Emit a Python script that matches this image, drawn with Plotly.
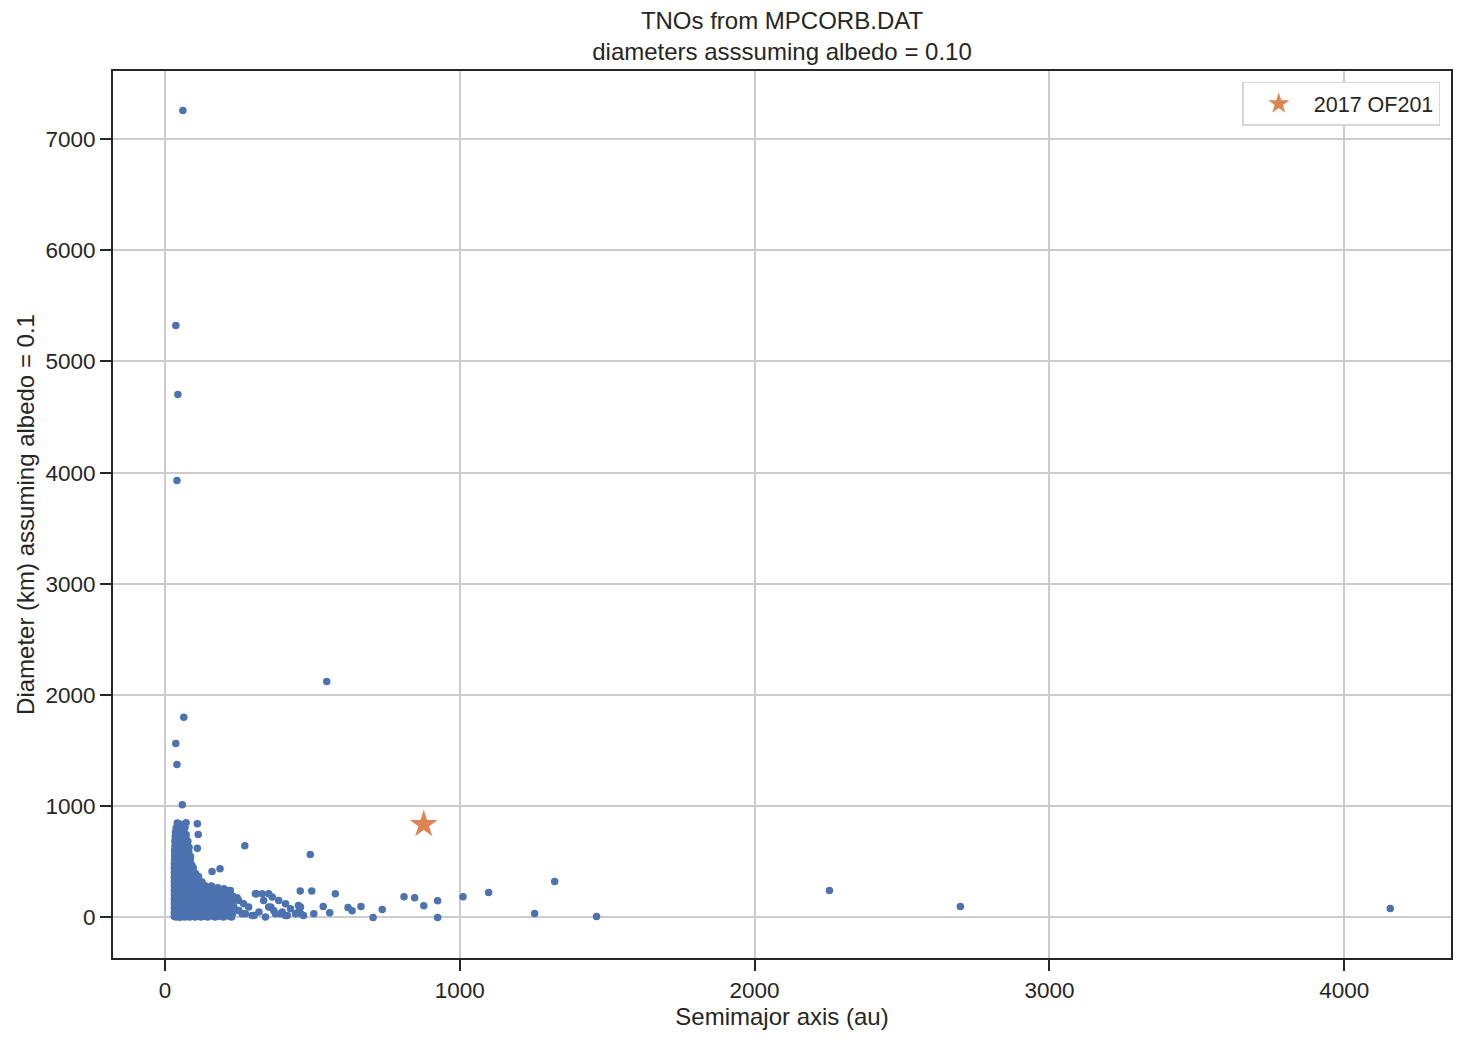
import plotly.graph_objects as go

# dense cluster of TNOs near a = 30-250 au as (a [au], D [km])
cluster = [
    (42, 848), (50, 840), (58, 836), (72, 851), (47, 826), (55, 820),
    (38, 805), (45, 795), (53, 800), (61, 790), (68, 808),
    (36, 765), (43, 758), (50, 770), (58, 752), (65, 762), (72, 745),
    (35, 725), (42, 715), (49, 728), (57, 718), (64, 710), (71, 722),
    (34, 684), (41, 676), (48, 690), (56, 672), (63, 680), (70, 668), (78, 686),
    (34, 642), (40, 634), (47, 648), (54, 630), (61, 640), (68, 628), (75, 645), (82, 632),
    (33, 602), (40, 596), (46, 610), (53, 590), (60, 604), (67, 594), (74, 606), (81, 588),
    (33, 562), (39, 552), (46, 568), (52, 556), (59, 548), (66, 565), (73, 550), (80, 560), (87, 548),
    (33, 522), (39, 514), (45, 528), (52, 510), (58, 520), (65, 512), (72, 525), (79, 508), (86, 518),
    (32, 484), (38, 476), (45, 490), (51, 470), (58, 482), (64, 474), (71, 486), (78, 470), (85, 480),
    (91, 472),
    (32, 444), (38, 436), (44, 450), (51, 430), (57, 442), (64, 434), (70, 446), (77, 430), (84, 440),
    (90, 432), (96, 446),
    (32, 404), (38, 396), (44, 410), (50, 392), (57, 402), (63, 394), (70, 406), (77, 390), (84, 400),
    (91, 392), (98, 404), (104, 395),
    (32, 364), (38, 356), (44, 370), (50, 352), (56, 362), (63, 354), (70, 366), (77, 350), (84, 360),
    (91, 352), (99, 364), (107, 355), (114, 368),
    (32, 324), (37, 316), (43, 330), (50, 312), (56, 322), (63, 314), (70, 326), (77, 310), (84, 320),
    (92, 312), (100, 324), (108, 316), (117, 328), (126, 318),
    (32, 284), (37, 276), (43, 290), (49, 272), (56, 282), (63, 274), (70, 286), (77, 270), (84, 280),
    (92, 272), (100, 284), (108, 276), (117, 288), (127, 275), (137, 284), (148, 272), (158, 282),
    (32, 244), (37, 236), (43, 250), (49, 232), (56, 242), (63, 234), (70, 246), (77, 230), (84, 240),
    (92, 232), (100, 244), (109, 236), (118, 248), (128, 232), (139, 244), (150, 236), (162, 246),
    (175, 232), (188, 242), (200, 258), (212, 238), (222, 243), (179, 266), (208, 243),
    (32, 204), (37, 196), (43, 210), (49, 192), (56, 202), (63, 194), (70, 206), (77, 190), (85, 200),
    (93, 192), (101, 204), (110, 196), (119, 208), (129, 192), (140, 204), (151, 196), (163, 206),
    (176, 192), (189, 202), (202, 194), (216, 204), (230, 192),
    (32, 164), (37, 156), (43, 170), (49, 152), (56, 162), (63, 154), (70, 166), (77, 150), (85, 160),
    (93, 152), (101, 164), (110, 156), (119, 168), (129, 152), (140, 164), (151, 156), (163, 166),
    (176, 152), (189, 162), (202, 154), (216, 164), (230, 152), (245, 177),
    (32, 124), (37, 116), (43, 130), (49, 112), (56, 122), (63, 114), (70, 126), (77, 110), (85, 120),
    (93, 112), (101, 124), (110, 116), (119, 128), (129, 112), (140, 124), (151, 116), (163, 126),
    (176, 112), (189, 122), (202, 114), (216, 124), (230, 112),
    (32, 84), (37, 76), (43, 90), (49, 72), (56, 82), (63, 74), (70, 86), (77, 70), (85, 80),
    (93, 72), (101, 84), (110, 76), (119, 88), (129, 72), (140, 84), (151, 76), (163, 86),
    (176, 72), (189, 82), (202, 74), (216, 84), (234, 93),
    (32, 44), (37, 36), (43, 50), (49, 32), (56, 42), (63, 34), (70, 46), (77, 30), (85, 40),
    (93, 32), (101, 44), (110, 36), (119, 48), (129, 32), (140, 44), (151, 36), (163, 46),
    (176, 32), (189, 42), (202, 34), (216, 44), (230, 36),
    (32, 8), (38, 4), (45, 12), (52, 2), (60, 10), (68, 4), (76, 12), (84, 3), (93, 10),
    (102, 4), (112, 12), (122, 3), (133, 10), (145, 4), (157, 12), (170, 3), (184, 10),
    (198, 4), (212, 12), (226, 3),
]

# sparser objects further out, (a [au], D [km])
scattered = [
    (250, 153), (267, 123), (284, 93), (307, 213), (352, 213), (364, 183), (386, 153),
    (409, 123), (426, 78), (453, 48), (459, 237), (498, 237), (505, 32), (453, 108),
    (352, 93), (369, 63), (392, 32), (319, 48), (296, 18), (273, 32), (251, 63),
    (341, 3), (409, 18), (443, 32), (470, 18), (335, 153), (330, 213), (310, 212),
    (359, 93), (375, 32), (398, 48), (415, 18), (262, 32), (302, 18),
    (460, 93), (460, 36), (537, 99), (559, 42), (578, 212), (621, 89), (635, 59),
    (665, 99), (706, 0), (737, 72), (811, 186), (847, 176), (878, 104), (925, 150),
    (925, 0), (1011, 186), (1098, 225), (1254, 36), (1322, 324), (1464, 9),
    (2254, 243), (2698, 99), (4156, 81),
]

# large or unusual objects, (a [au], D [km])
outliers = [
    (61, 7257), (37, 5324), (44, 4703), (41, 3930), (549, 2122), (64, 1799),
    (37, 1565), (41, 1376), (59, 1013), (110, 842), (113, 746), (110, 623),
    (271, 645), (493, 566), (160, 414), (187, 437),
]

star_a = [878]
star_d = [836]
star_name = "2017 OF201"

points = cluster + scattered + outliers
tno_a = [p[0] for p in points]
tno_d = [p[1] for p in points]

x_ticks = [0, 1000, 2000, 3000, 4000]
y_ticks = [0, 1000, 2000, 3000, 4000, 5000, 6000, 7000]

INK = "#262626"
FONT = "Liberation Sans, Arial, sans-serif"

fig = go.Figure()
fig.add_trace(go.Scatter(
    x=tno_a, y=tno_d, mode="markers", showlegend=False,
    marker=dict(color="#4C72B0", size=7.5, line=dict(width=0)),
))
fig.add_trace(go.Scatter(
    x=star_a, y=star_d, mode="markers", name=star_name,
    marker=dict(color="#DD8452", size=21, symbol="star", line=dict(width=0)),
))

axis_common = dict(
    showline=True, linecolor=INK, linewidth=2, mirror=True,
    ticks="outside", ticklen=11, tickwidth=2, tickcolor=INK,
    showgrid=True, gridcolor="#cccccc", gridwidth=1.5,
    zeroline=False, tickfont=dict(size=22.5, color=INK, family=FONT),
)

# the page adds an 8px body margin, so the figure is a bit smaller than the window
fig.update_layout(
    width=1451, height=1026,
    margin=dict(l=105, r=6, t=63, b=76),
    paper_bgcolor="white", plot_bgcolor="white",
    font=dict(family=FONT, color=INK),
    title=dict(
        text="TNOs from MPCORB.DAT<br>diameters asssuming albedo = 0.10",
        x=0.5, xref="paper", xanchor="center",
        y=0.980, yref="container", yanchor="top",
        font=dict(size=24, color=INK, family=FONT),
    ),
    xaxis=dict(
        range=[-176, 4362], tickvals=x_ticks,
        title=dict(text="Semimajor axis (au)", font=dict(size=24, color=INK), standoff=6),
        **axis_common,
    ),
    yaxis=dict(
        range=[-365, 7612], tickvals=y_ticks,
        title=dict(text="Diameter (km) assuming albedo = 0.1", font=dict(size=24, color=INK), standoff=4),
        **axis_common,
    ),
    legend=dict(
        x=0.992, y=0.988, xanchor="right", yanchor="top",
        bgcolor="white", bordercolor="#d6d6d6", borderwidth=1.5,
        itemwidth=60,
        font=dict(size=21.5, color=INK, family=FONT),
    ),
)

fig.write_html("out.html")
